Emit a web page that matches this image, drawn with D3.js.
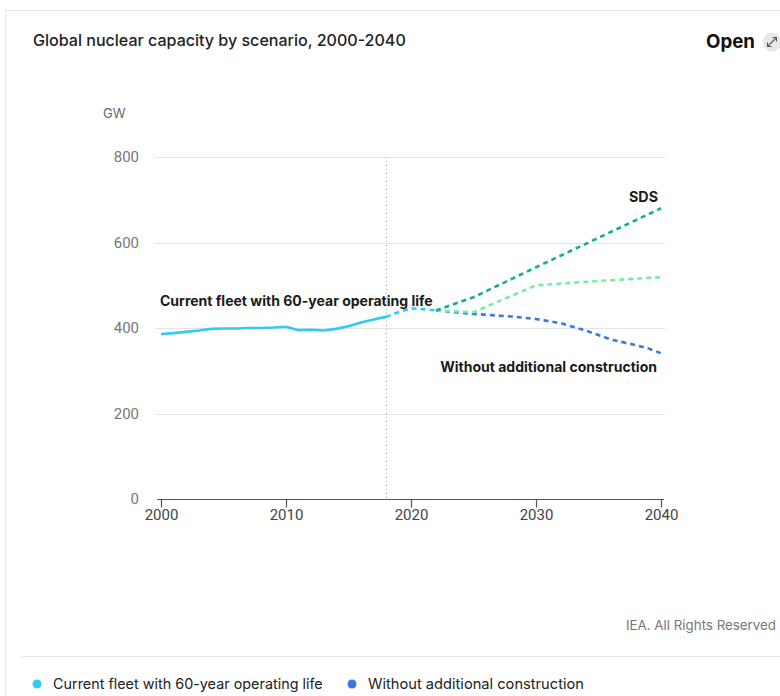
<!DOCTYPE html>
<html>
<head>
<meta charset="utf-8">
<script src="https://cdn.jsdelivr.net/npm/d3@7"></script>
<style>
  html, body { margin: 0; padding: 0; background: #fff; }
  svg { display: block; font-family: Inter, Roboto, "Noto Sans", sans-serif; }
</style>
</head>
<body>
<svg id="chart" width="780" height="696"></svg>
<script>
// ---- data ----
const histYears = [2000,2001,2002,2003,2004,2005,2006,2007,2008,2009,2010,2011,2012,2013,2014,2015,2016,2017,2018];
const histValues = [386,388,391,394,398,399,399,400,400,401,403,395,396,394,398,404,413,420,426];

const fleetYears = [2018,2019,2020,2021,2022];
const fleetValues = [426,437,446,444,441];

const sdsYears = [2022,2025,2030,2035,2040];
const sdsValues = [441,472,542,611,680];

const greenYears = [2022,2025,2030,2035,2040];
const greenValues = [441,437,500,510,519];

const noBuildYears = [2022,2025,2028,2030,2032,2034,2036,2038,2039,2040];
const noBuildValues = [441,433,427,421,411,394,373,360,352,341];

const xTicks = [2000,2010,2020,2030,2040];
const yTicks = [0,200,400,600,800];
const legendLabels = ["Current fleet with 60-year operating life","Without additional construction"];

// ---- layout ----
const svg = d3.select("#chart");
const x = d3.scaleLinear().domain([2000,2040]).range([161,661]);
const y = d3.scaleLinear().domain([0,800]).range([499,157]);

const cLight = "#35c8f5", cDark = "#3c78e0", cTeal = "#17ab9e", cGreen = "#74ee9f";

// helper: fit text to a target width by adjusting font size
function fit(sel, target){
  const n = sel.node();
  const w = n.getComputedTextLength();
  const fs = parseFloat(sel.attr("font-size"));
  if (w > 0) sel.attr("font-size", (fs * target / w).toFixed(2));
  return sel;
}

// frame
svg.append("line").attr("x1",5).attr("x2",780).attr("y1",10.5).attr("y2",10.5).attr("stroke","#e6e6e6");
svg.append("line").attr("x1",5.5).attr("x2",5.5).attr("y1",10).attr("y2",696).attr("stroke","#e6e6e6");

// title
fit(svg.append("text").attr("x",33).attr("y",46).attr("font-size",15).attr("font-weight",500)
  .attr("fill","#222").text("Global nuclear capacity by scenario, 2000-2040"), 373);
fit(svg.append("text").attr("x",706).attr("y",48).attr("font-size",17).attr("font-weight",700)
  .attr("fill","#111").text("Open"), 49);
svg.append("circle").attr("cx",772).attr("cy",42).attr("r",9.5).attr("fill","#e8e8e8");
svg.append("path").attr("d","M767.5,46.5 L776.5,37.5 M772.5,37.5 L776.5,37.5 L776.5,41.5 M767.5,42.5 L767.5,46.5 L771.5,46.5")
  .attr("stroke","#555").attr("stroke-width",1.1).attr("fill","none");

// unit label
svg.append("text").attr("x",103).attr("y",118).attr("font-size",13).attr("fill","#666").text("GW");

// grid
svg.append("g").selectAll("line").data(yTicks.filter(d=>d>0)).join("line")
  .attr("x1",155).attr("x2",665).attr("y1",d=>Math.round(y(d))+0.5).attr("y2",d=>Math.round(y(d))+0.5)
  .attr("stroke","#e4e4e4");

// y axis labels
const yAxis = d3.axisLeft(y).tickValues(yTicks).tickSize(0).tickPadding(0);
const gy = svg.append("g").attr("transform","translate(139,0)").call(yAxis);
gy.select(".domain").remove();
gy.selectAll("text").attr("font-size",15).attr("fill","#777").attr("font-family","Roboto, sans-serif");

// vertical dotted line at 2018
svg.append("line").attr("x1",Math.round(x(2018))+0.5).attr("x2",Math.round(x(2018))+0.5)
  .attr("y1",157).attr("y2",499).attr("stroke","#aaa").attr("stroke-dasharray","1,3");

// x axis
const xAxis = d3.axisBottom(x).tickValues(xTicks).tickFormat(d3.format("d")).tickSize(8).tickPadding(2);
const gx = svg.append("g").attr("transform","translate(0,499.5)").call(xAxis);
gx.select(".domain").attr("d","M157,0H664").attr("stroke","#555").attr("stroke-width",1.2);
gx.selectAll(".tick line").attr("stroke","#555").attr("stroke-width",1.2);
gx.selectAll("text").attr("font-size",15).attr("fill","#444").attr("font-family","Roboto, sans-serif");

// lines
const line = d3.line().x(d=>x(d[0])).y(d=>y(d[1]));
function drawLine(years, vals, color, dashed){
  svg.append("path").datum(years.map((yr,i)=>[yr, vals[i]]))
    .attr("d", line).attr("fill","none").attr("stroke",color).attr("stroke-width",2.6)
    .attr("stroke-linejoin","round")
    .attr("stroke-dasharray", dashed ? "5,4" : null);
}
drawLine(noBuildYears, noBuildValues, cDark, true);
drawLine(greenYears, greenValues, cGreen, true);
drawLine(sdsYears, sdsValues, cTeal, true);
drawLine(histYears, histValues, cLight, false);
drawLine(fleetYears, fleetValues, cLight, true);

// annotations
fit(svg.append("text").attr("x",160).attr("y",306).attr("font-size",14).attr("font-weight",700)
  .attr("fill","#1a1a1a").text("Current fleet with 60-year operating life"), 273);
fit(svg.append("text").attr("x",658).attr("y",202).attr("text-anchor","end").attr("font-size",14).attr("font-weight",700)
  .attr("fill","#1a1a1a").text("SDS"), 29);
fit(svg.append("text").attr("x",657).attr("y",372).attr("text-anchor","end").attr("font-size",14).attr("font-weight",700)
  .attr("fill","#1a1a1a").text("Without additional construction"), 217);

// credit (kept fully inside the picture)
fit(svg.append("text").attr("x",626).attr("y",630).attr("font-size",14).attr("fill","#777").text("IEA. All Rights Reserved"), 150);

// separator
svg.append("line").attr("x1",22).attr("x2",780).attr("y1",656.5).attr("y2",656.5).attr("stroke","#e4e4e4");

// legend
const legX = [37, 352];
const legColors = [cLight, cDark];
const leg = svg.append("g").selectAll("g").data(legendLabels).join("g")
  .attr("transform",(d,i)=>`translate(${legX[i]},684)`);
leg.append("circle").attr("r",4.5).attr("fill",(d,i)=>legColors[i]);
const legTargets = [270, 216];
leg.append("text").attr("x",16).attr("y",5).attr("font-size",14).attr("fill","#222").text(d=>d)
  .each(function(d,i){ fit(d3.select(this), legTargets[i]); });
</script>
</body>
</html>
